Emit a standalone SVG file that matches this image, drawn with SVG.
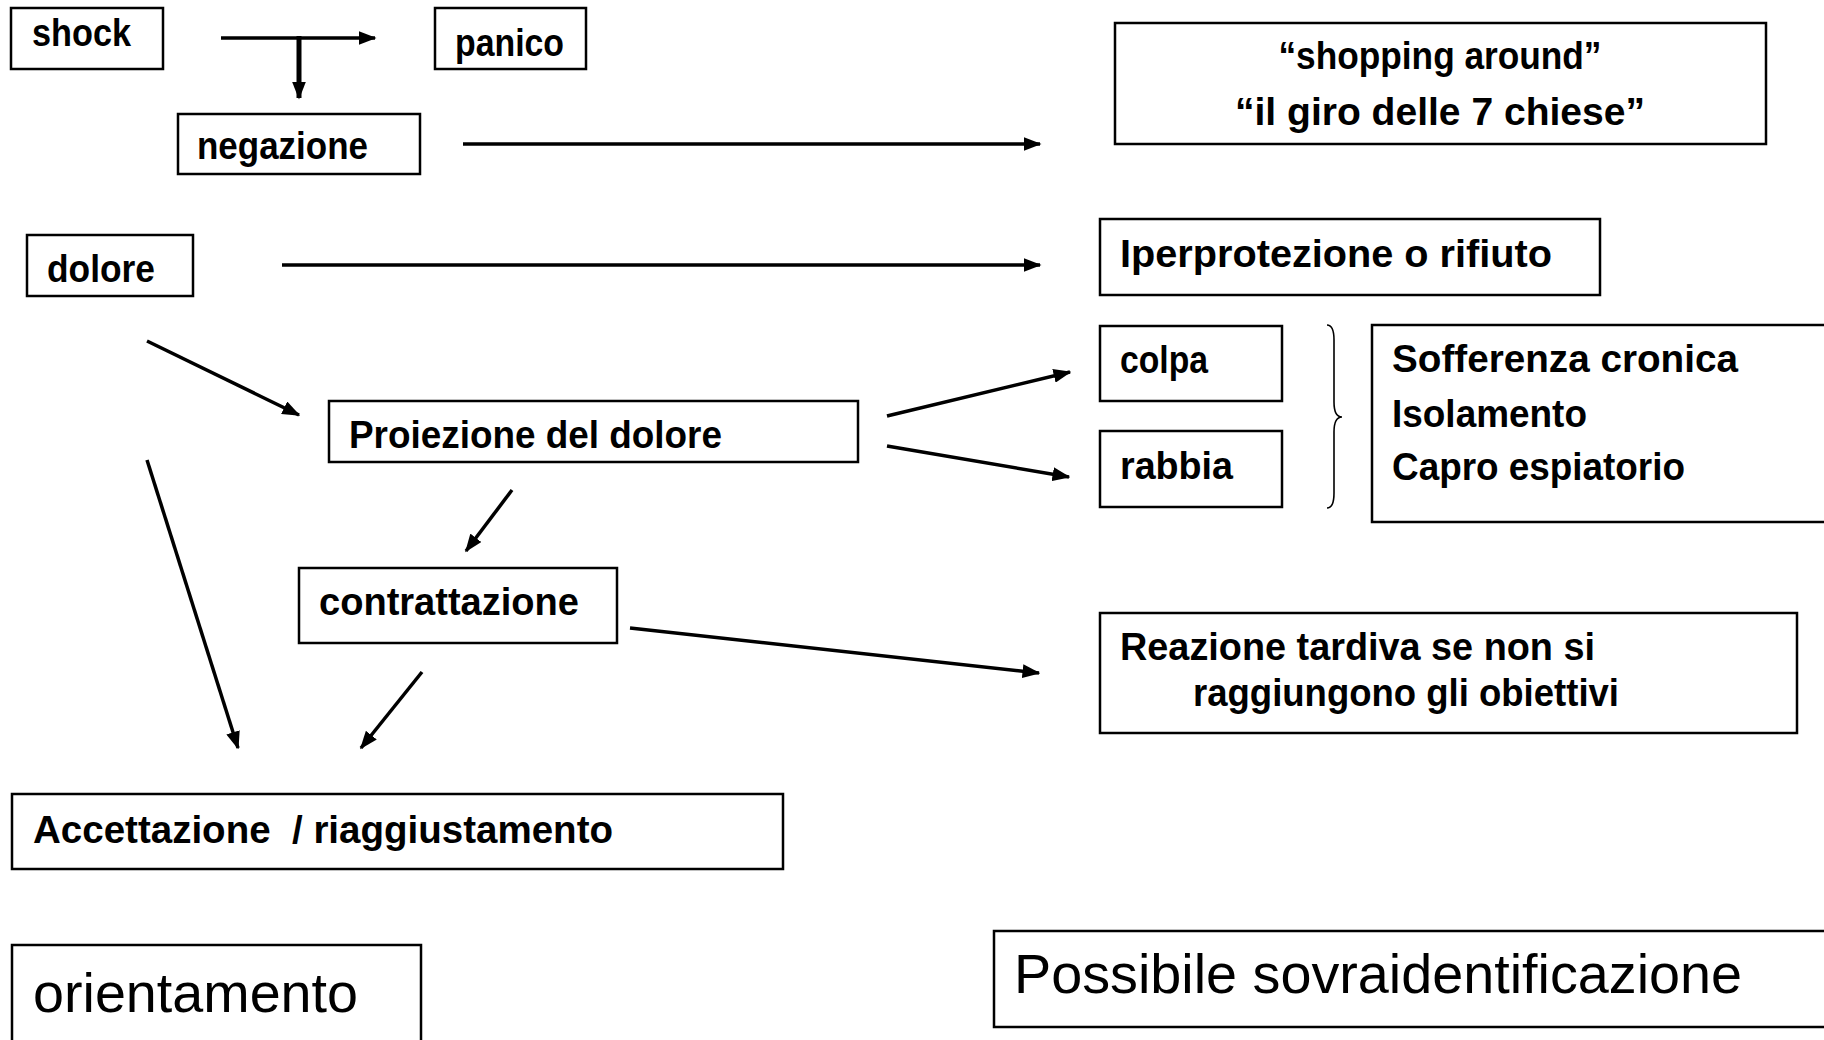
<svg xmlns="http://www.w3.org/2000/svg" width="1824" height="1040" viewBox="0 0 1824 1040">
<style>
.box{fill:#fff;stroke:#000;stroke-width:2.5}
.b{font-family:"Liberation Sans",Arial,sans-serif;font-weight:bold;font-size:38px;fill:#000}
.r{font-family:"Liberation Sans",Arial,sans-serif;font-weight:normal;font-size:56px;fill:#000}
.ln{stroke:#000;stroke-width:3.5;fill:none;marker-end:url(#ah)}
</style>
<defs>
<marker id="ah" markerUnits="userSpaceOnUse" markerWidth="18" markerHeight="14" refX="16.5" refY="7" orient="auto">
<path d="M0,0 L18,7 L0,14 z" fill="#000"/>
</marker>
</defs>
<rect width="1824" height="1040" fill="#fff"/>

<g id="shock"><rect class="box" x="11" y="8" width="152" height="61"/><text class="b" x="32" y="46" textLength="99" lengthAdjust="spacingAndGlyphs">shock</text></g>
<g id="panico"><rect class="box" x="435" y="8" width="151" height="61"/><text class="b" x="455" y="56" textLength="109" lengthAdjust="spacingAndGlyphs">panico</text></g>
<g id="negazione"><rect class="box" x="178" y="114" width="242" height="60"/><text class="b" x="197" y="159" textLength="171" lengthAdjust="spacingAndGlyphs">negazione</text></g>
<g id="dolore"><rect class="box" x="27" y="235" width="166" height="61"/><text class="b" x="47" y="282" textLength="108" lengthAdjust="spacingAndGlyphs">dolore</text></g>
<g id="proiezione"><rect class="box" x="329" y="401" width="529" height="61"/><text class="b" x="349" y="448" textLength="373" lengthAdjust="spacingAndGlyphs">Proiezione del dolore</text></g>
<g id="contrattazione"><rect class="box" x="299" y="568" width="318" height="75"/><text class="b" x="319" y="615" textLength="260" lengthAdjust="spacingAndGlyphs">contrattazione</text></g>
<g id="accettazione"><rect class="box" x="12" y="794" width="771" height="75"/><text class="b" x="33" y="843" textLength="580" lengthAdjust="spacingAndGlyphs" style="white-space:pre">Accettazione  / riaggiustamento</text></g>
<g id="shopping"><rect class="box" x="1115" y="23" width="651" height="121"/><text class="b" x="1440" y="69" text-anchor="middle" textLength="323" lengthAdjust="spacingAndGlyphs">“shopping around”</text><text class="b" x="1440" y="125" text-anchor="middle" textLength="410" lengthAdjust="spacingAndGlyphs">“il giro delle 7 chiese”</text></g>
<g id="iperprotezione"><rect class="box" x="1100" y="219" width="500" height="76"/><text class="b" x="1120" y="267" textLength="432" lengthAdjust="spacingAndGlyphs">Iperprotezione o rifiuto</text></g>
<g id="colpa"><rect class="box" x="1100" y="326" width="182" height="75"/><text class="b" x="1120" y="373" textLength="88" lengthAdjust="spacingAndGlyphs">colpa</text></g>
<g id="rabbia"><rect class="box" x="1100" y="431" width="182" height="76"/><text class="b" x="1120" y="479" textLength="113" lengthAdjust="spacingAndGlyphs">rabbia</text></g>
<g id="brace"><path d="M1327,325 Q1334,325 1334,340 L1334,402 Q1334,417 1342,417 Q1334,417 1334,432 L1334,493 Q1334,508 1327,508" fill="none" stroke="#000" stroke-width="1.6"/></g>
<g id="sofferenza"><rect class="box" x="1372" y="325" width="480" height="197"/><text class="b" x="1392" y="372" textLength="346" lengthAdjust="spacingAndGlyphs">Sofferenza cronica</text><text class="b" x="1392" y="427" textLength="195" lengthAdjust="spacingAndGlyphs">Isolamento</text><text class="b" x="1392" y="480" textLength="293" lengthAdjust="spacingAndGlyphs">Capro espiatorio</text></g>
<g id="reazione"><rect class="box" x="1100" y="613" width="697" height="120"/><text class="b" x="1120" y="660" textLength="475" lengthAdjust="spacingAndGlyphs">Reazione tardiva se non si</text><text class="b" x="1193" y="706" textLength="426" lengthAdjust="spacingAndGlyphs">raggiungono gli obiettivi</text></g>
<g id="orientamento"><rect class="box" x="12" y="945" width="409" height="110"/><text class="r" x="33" y="1012" textLength="325" lengthAdjust="spacingAndGlyphs">orientamento</text></g>
<g id="sovraidentificazione"><rect class="box" x="994" y="931" width="860" height="96"/><text class="r" x="1014" y="993" textLength="728" lengthAdjust="spacingAndGlyphs">Possibile sovraidentificazione</text></g>

<g id="connectors">
<line class="ln" x1="221" y1="38" x2="375" y2="38"/>
<line class="ln" x1="299" y1="36" x2="299" y2="98" style="stroke-width:5"/>
<line class="ln" x1="463" y1="144" x2="1040" y2="144"/>
<line class="ln" x1="282" y1="265" x2="1040" y2="265"/>
<line class="ln" x1="147" y1="341" x2="299" y2="415"/>
<line class="ln" x1="147" y1="460" x2="238" y2="748"/>
<line class="ln" x1="512" y1="490" x2="466" y2="551"/>
<line class="ln" x1="422" y1="672" x2="361" y2="748"/>
<line class="ln" x1="887" y1="416" x2="1070" y2="372"/>
<line class="ln" x1="887" y1="446" x2="1069" y2="477"/>
<line class="ln" x1="630" y1="628" x2="1039" y2="673"/>
</g>
</svg>
